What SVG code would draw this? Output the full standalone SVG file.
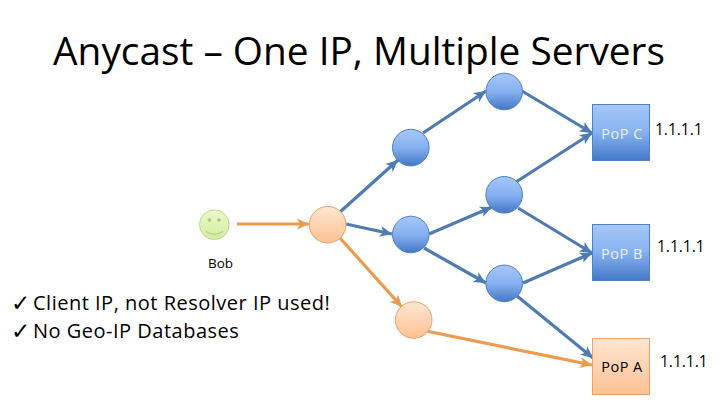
<svg xmlns="http://www.w3.org/2000/svg" width="720" height="405" viewBox="0 0 720 405">
<style>
text{font-family:"Open Sans","Liberation Sans",sans-serif;fill:#000}
.t{font-size:15.500px}
.c{font-size:14.500px;text-anchor:middle;letter-spacing:.5px}
.b{font-size:20px;letter-spacing:.5px}
.k{font-size:23px;font-family:"DejaVu Sans",sans-serif}
.blue{stroke:#4f81bd;stroke-width:1;fill:url(#gb)}
.or{stroke:#e9a36b;stroke-width:1;fill:url(#go)}
.lb{stroke:#4f7cb0;stroke-width:3.200;fill:none;marker-end:url(#ab)}
.lo{stroke:#ec9a4e;stroke-width:3.200;fill:none;marker-end:url(#ao)}
</style>
<defs>
<linearGradient id="gb" x1="0" y1="0" x2="0" y2="1"><stop offset="0" stop-color="#a6c7f9"/><stop offset=".5" stop-color="#86b1f0"/><stop offset="1" stop-color="#4378c8"/></linearGradient>
<linearGradient id="go" x1="0" y1="0" x2="0" y2="1"><stop offset="0" stop-color="#fee6d1"/><stop offset="1" stop-color="#fdc193"/></linearGradient>
<linearGradient id="gg" x1="0" y1="0" x2="0" y2="1"><stop offset="0" stop-color="#eaf8cc"/><stop offset="1" stop-color="#d3ee9e"/></linearGradient>
<marker id="ab" markerUnits="userSpaceOnUse" markerWidth="14" markerHeight="14" refX="12" refY="7" orient="auto"><path d="M0 1.500L12 7L0 12.500L3 7Z" fill="#4f7cb0"/></marker>
<marker id="ao" markerUnits="userSpaceOnUse" markerWidth="14" markerHeight="14" refX="12" refY="7" orient="auto"><path d="M0 1.500L12 7L0 12.500L3 7Z" fill="#ec9a4e"/></marker>
</defs>
<text id="title" x="359" y="65" text-anchor="middle" font-size="38.800">Anycast – One IP, Multiple Servers</text>
<g id="connectors">
<path class="lb" d="M340 212L398 160"/>
<path class="lb" d="M423 133L486 91"/>
<path class="lb" d="M522 91L592 133"/>
<path class="lb" d="M516 182L592 133"/>
<path class="lb" d="M346 224L392 234"/>
<path class="lb" d="M429 234L492 207"/>
<path class="lb" d="M518 208L592 253"/>
<path class="lb" d="M424 248L486 283"/>
<path class="lb" d="M523 283L592 253"/>
<path class="lb" d="M517 296L593 358"/>
<path class="lo" d="M237 224L309 224"/>
<path class="lo" d="M340 238L402 307"/>
<path class="lo" d="M426 331L592 365"/>
</g>
<g id="bob"><circle cx="214.300" cy="224.700" r="14.800" fill="url(#gg)" stroke="#bcd98c"/><circle cx="209.300" cy="220" r="1.800" fill="#a9c685"/><circle cx="219" cy="220" r="1.800" fill="#a9c685"/><path d="M206 231.500Q214.500 237 223 231.500" fill="none" stroke="#a9c685"/><text x="220.500" y="268" font-size="13.500" text-anchor="middle">Bob</text></g>
<g id="n1"><circle class="or" cx="327.700" cy="224.700" r="18.300"/></g>
<g id="n2"><circle class="or" cx="413.700" cy="320" r="18.300"/></g>
<g id="n3"><circle class="blue" cx="410.800" cy="147.600" r="18.300"/></g>
<g id="n4"><circle class="blue" cx="410.800" cy="234.500" r="18.300"/></g>
<g id="n5"><circle class="blue" cx="504.200" cy="91.500" r="18.300"/></g>
<g id="n6"><circle class="blue" cx="504.200" cy="194.800" r="18.300"/></g>
<g id="n7"><circle class="blue" cx="504.200" cy="283.400" r="18.300"/></g>
<g id="popc"><rect class="blue" x="592.500" y="104.500" width="57" height="56"/><text class="c" x="622" y="139" style="fill:#eaf2fc">PoP C</text><text class="t" x="655" y="135">1.1.1.1</text></g>
<g id="popb"><rect class="blue" x="592.500" y="224.500" width="57" height="56"/><text class="c" x="622" y="259" style="fill:#eaf2fc">PoP B</text><text class="t" x="657" y="252">1.1.1.1</text></g>
<g id="popa"><rect class="or" x="592.500" y="338.500" width="57" height="56"/><text class="c" x="622" y="372">PoP A</text><text class="t" x="660" y="367">1.1.1.1</text></g>
<g id="notes">
<text class="k" x="11" y="311">✓</text>
<text class="k" x="11" y="339">✓</text>
<text class="b" x="33" y="310">Client IP, not Resolver IP used!</text>
<text class="b" x="33" y="338">No Geo-IP Databases</text>
</g>
</svg>
